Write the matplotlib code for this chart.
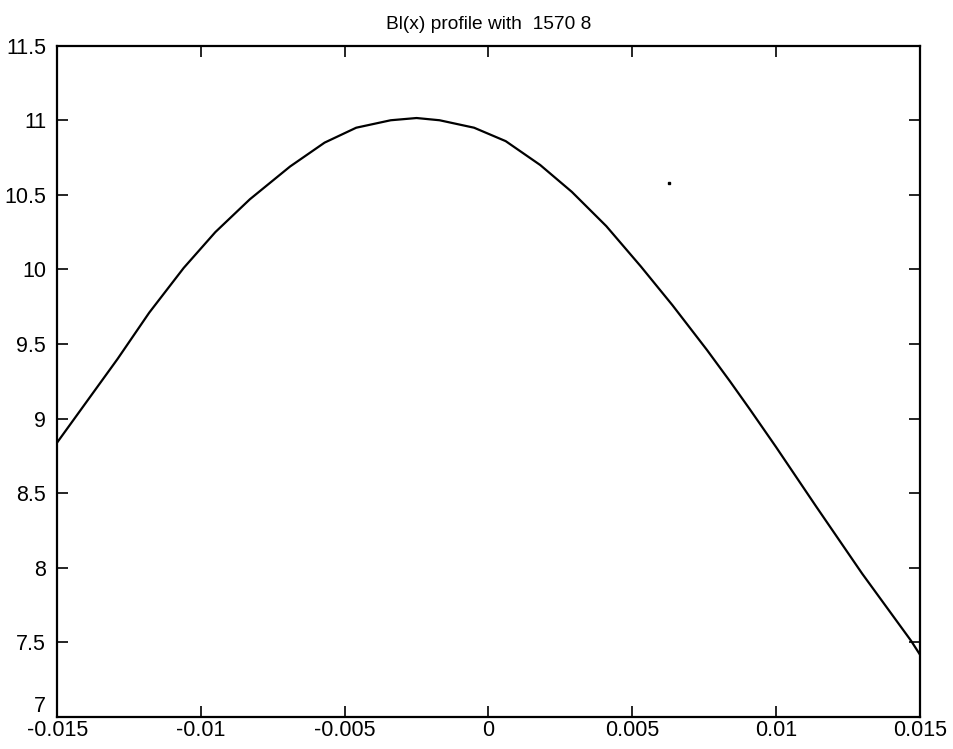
import matplotlib
matplotlib.use('Agg')
import matplotlib.pyplot as plt

# Bl(x) profile
x_pos = [-0.0150, -0.0141, -0.0129, -0.0118, -0.0106, -0.0095, -0.0083,
         -0.0069, -0.0057, -0.0046, -0.0034, -0.0025, -0.0017, -0.0005,
         0.0006, 0.0018, 0.0029, 0.0041, 0.0053, 0.0064, 0.0076, 0.0084,
         0.0091, 0.0100, 0.0114, 0.0130, 0.0147, 0.0150]
bl = [8.84, 9.08, 9.40, 9.71, 10.01, 10.25, 10.47,
      10.69, 10.85, 10.95, 11.00, 11.015, 11.00, 10.95,
      10.86, 10.70, 10.52, 10.29, 10.02, 9.76, 9.46, 9.25,
      9.06, 8.81, 8.41, 7.96, 7.51, 7.42]

# small speck in the scan
speck_x = [0.00627]
speck_y = [10.58]

x_ticks = [-0.015, -0.01, -0.005, 0, 0.005, 0.01, 0.015]
x_labels = ['-0.015', '-0.01', '-0.005', '0', '0.005', '0.01', '0.015']
y_ticks = [7, 7.5, 8, 8.5, 9, 9.5, 10, 10.5, 11, 11.5]
y_labels = ['7', '7.5', '8', '8.5', '9', '9.5', '10', '10.5', '11', '11.5']

plt.rcParams['font.family'] = ['Liberation Sans', 'DejaVu Sans']

fig = plt.figure(figsize=(9.54, 7.49), dpi=100)
ax = fig.add_axes([0.06, 0.043, 0.904, 0.896])

ax.plot(x_pos, bl, color='black', lw=1.6)
ax.plot(speck_x, speck_y, 's', color='black', ms=1.5)

ax.set_xlim(-0.015, 0.015)
ax.set_ylim(7, 11.5)
ax.set_xticks(x_ticks)
ax.set_xticklabels(x_labels)
ax.set_yticks(y_ticks)
ax.set_yticklabels(y_labels)
ax.tick_params(direction='in', length=8, width=1.2, top=True, right=True,
               labelsize=15.5)
ax.tick_params(axis='y', pad=8)
ax.tick_params(axis='x', pad=2)
# MATLAB-style: the bottom y label sits just above the corner
ax.get_yticklabels()[0].set_va('bottom')
for s in ax.spines.values():
    s.set_linewidth(1.6)

ax.set_title('Bl(x) profile with  1570 8', fontsize=13.8, pad=12)

fig.savefig('out.png', dpi=100)
